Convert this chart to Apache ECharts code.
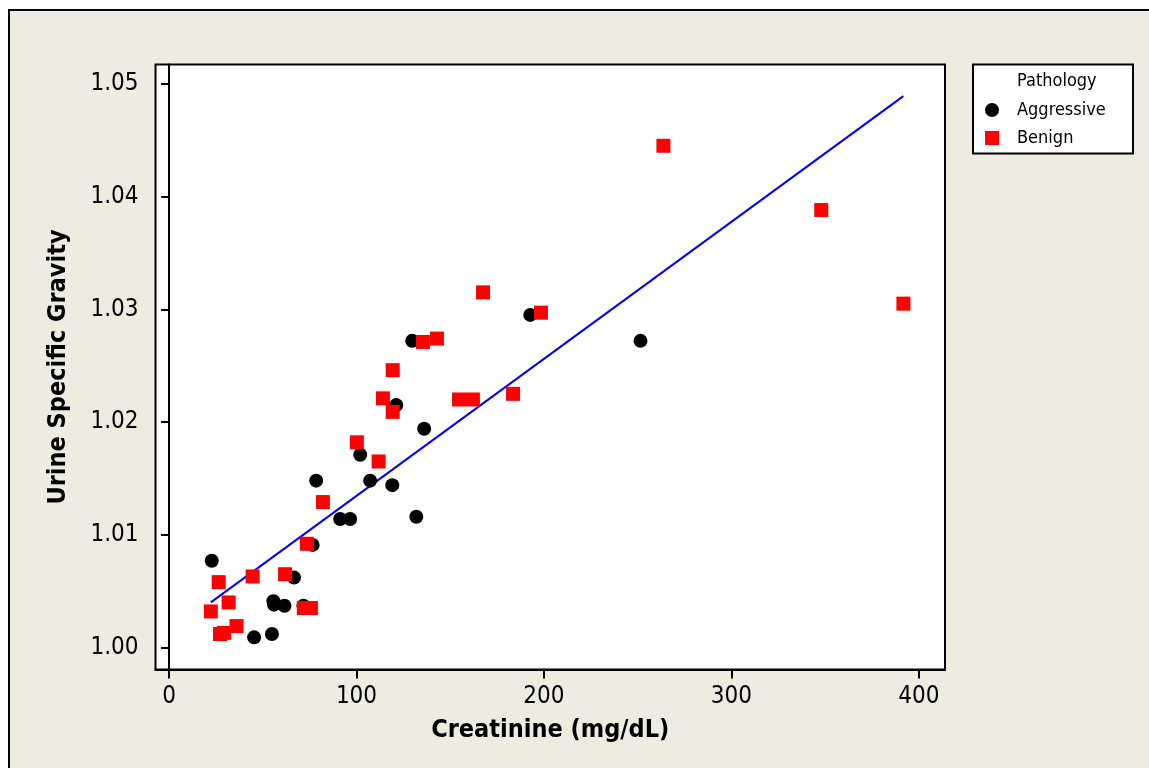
<!DOCTYPE html>
<html>
<head>
<meta charset="utf-8">
<script src="https://cdn.jsdelivr.net/npm/echarts@6/dist/echarts.min.js"></script>
<style>
  html, body { margin: 0; padding: 0; background: #ffffff; }
  #chart { width: 1149px; height: 768px; }
</style>
</head>
<body>
<div id="chart"></div>
<script>
// Creatinine (mg/dL) vs urine specific gravity, split by pathology
const aggressiveX = [22.8, 45.4, 54.9, 55.7, 56.0, 61.6, 66.7, 71.7, 76.6, 78.5, 91.3, 96.6, 102.0, 107.3, 119.1, 121.2, 129.7, 131.9, 136.1, 192.7, 251.5];
const aggressiveY = [1.0077, 1.0009, 1.0012, 1.0041, 1.0038, 1.0037, 1.0062, 1.0037, 1.0091, 1.0148, 1.0114, 1.0114, 1.0171, 1.0148, 1.0144, 1.0215, 1.0272, 1.0116, 1.0194, 1.0295, 1.0272];

const benignX = [22.3, 26.5, 27.2, 29.4, 31.8, 36.0, 44.6, 61.9, 71.9, 73.5, 75.7, 82.1, 100.2, 111.8, 114.1, 119.3, 119.3, 135.4, 142.9, 154.7, 162.1, 167.5, 183.5, 198.4, 263.7, 347.9, 391.7];
const benignY = [1.0032, 1.0058, 1.0012, 1.0013, 1.0040, 1.0019, 1.0063, 1.0065, 1.0035, 1.0092, 1.0035, 1.0129, 1.0182, 1.0165, 1.0221, 1.0209, 1.0246, 1.0271, 1.0274, 1.0220, 1.0220, 1.0315, 1.0225, 1.0297, 1.0445, 1.0388, 1.0305];

// Fitted regression line endpoints
const fitX = [22.3, 391.7];
const fitY = [1.0040, 1.0489];

const xTicks = [0, 100, 200, 300, 400];
const yTicks = [1.00, 1.01, 1.02, 1.03, 1.04, 1.05];

const FONT = "'DejaVu Sans Condensed', 'DejaVu Sans', sans-serif";
const zip = (xs, ys) => xs.map((x, i) => [x, ys[i]]);

const chart = echarts.init(document.getElementById('chart'), null, { renderer: 'canvas' });

chart.setOption({
  animation: false,
  backgroundColor: 'transparent',
  textStyle: { fontFamily: FONT },
  graphic: [
    {
      type: 'rect', z: -10, silent: true,
      shape: { x: 9, y: 10, width: 1200, height: 800 },
      style: { fill: '#EEEBE1', stroke: '#000', lineWidth: 2 }
    },
    {
      type: 'rect', z: 5, silent: true,
      shape: { x: 973, y: 64.5, width: 160, height: 89 },
      style: { fill: '#fff', stroke: '#000', lineWidth: 2 }
    },
    {
      type: 'text', z: 6, silent: true,
      left: 1017, top: 72,
      style: { text: 'Pathology', fill: '#000', font: "18px " + FONT }
    }
  ],
  grid: {
    left: 155.5, top: 64.5, width: 789.5, height: 605,
    show: true, backgroundColor: '#fff', borderColor: '#000', borderWidth: 2
  },
  legend: {
    orient: 'vertical',
    left: 980, top: 96,
    z: 10,
    itemWidth: 14, itemHeight: 14, itemGap: 10,
    textStyle: { fontFamily: FONT, fontSize: 18, color: '#000', lineHeight: 18, padding: [0, 0, 0, 13] },
    data: [
      { name: 'Aggressive', icon: 'circle' },
      { name: 'Benign', icon: 'rect' }
    ]
  },
  xAxis: {
    type: 'value',
    min: -7.2, max: 413.9,
    name: 'Creatinine (mg/dL)',
    nameLocation: 'middle', nameGap: 48,
    nameTextStyle: { fontFamily: FONT, fontWeight: 'bold', fontSize: 25, color: '#000' },
    axisLine: { show: true, lineStyle: { color: '#000', width: 2 } },
    axisTick: { show: true, length: 9, lineStyle: { color: '#000', width: 2 }, customValues: xTicks },
    axisLabel: { fontFamily: FONT, fontSize: 24, color: '#000', margin: 15, customValues: xTicks },
    splitLine: { show: false }
  },
  yAxis: {
    type: 'value',
    min: 0.99805, max: 1.05171,
    name: 'Urine Specific Gravity',
    nameLocation: 'middle', nameGap: 85,
    nameTextStyle: { fontFamily: FONT, fontWeight: 'bold', fontSize: 25, color: '#000' },
    axisLine: { show: true, lineStyle: { color: '#000', width: 2 } },
    axisTick: { show: true, length: 8, lineStyle: { color: '#000', width: 2 }, customValues: yTicks },
    axisLabel: { fontFamily: FONT, fontSize: 24, color: '#000', margin: 17, customValues: yTicks,
      formatter: v => Number(v).toFixed(2) },
    splitLine: { show: false }
  },
  series: [
    {
      name: 'Fit', type: 'line', z: 1,
      data: zip(fitX, fitY),
      symbol: 'none',
      lineStyle: { color: '#0000ff', width: 2 }
    },
    {
      name: 'Aggressive', type: 'scatter', z: 2,
      data: zip(aggressiveX, aggressiveY),
      symbol: 'circle', symbolSize: 14,
      itemStyle: { color: '#000', opacity: 1 }
    },
    {
      name: 'Benign', type: 'scatter', z: 3,
      data: zip(benignX, benignY),
      symbol: 'rect', symbolSize: 14,
      itemStyle: { color: '#ff0000', opacity: 1 }
    }
  ]
});
</script>
</body>
</html>
